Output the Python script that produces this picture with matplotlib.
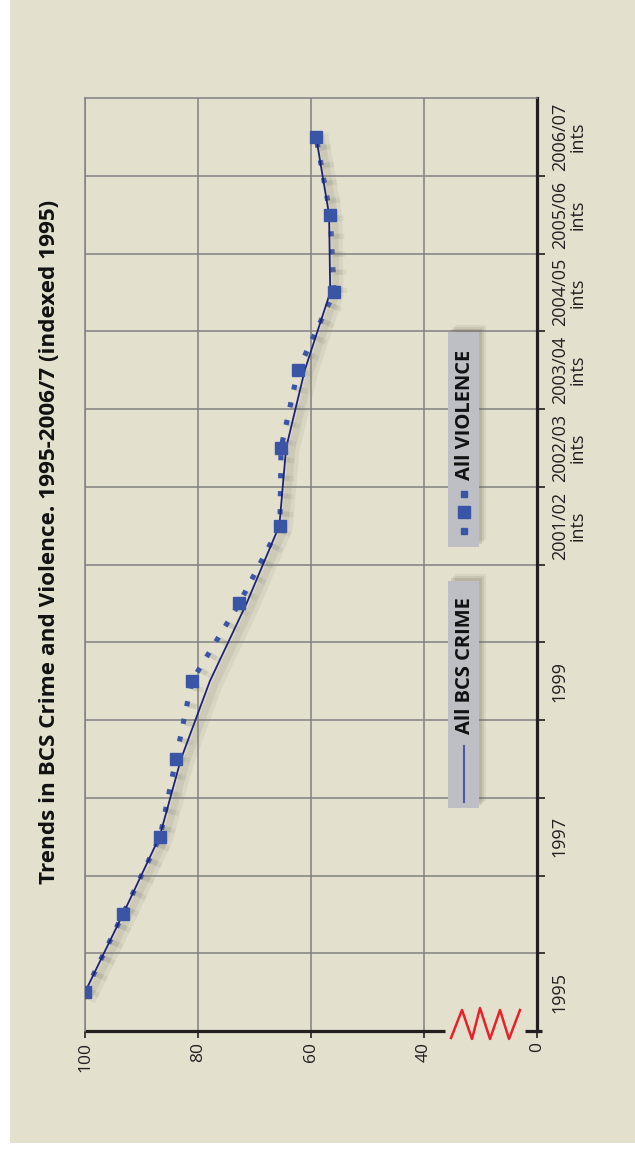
import matplotlib.pyplot as plt
import matplotlib.patheffects as pe
from matplotlib.patches import Rectangle
from matplotlib.lines import Line2D

plt.rcParams['font.family'] = ['Open Sans', 'DejaVu Sans']

# data (chart is drawn turned on its side, like the original)
years = ['1995', '1996', '1997', '1998', '1999', '2000', '2001/02',
         '2002/03', '2003/04', '2004/05', '2005/06', '2006/07']
year_labels = ['1995', '', '1997', '', '1999', '', '2001/02\nints',
               '2002/03\nints', '2003/04\nints', '2004/05\nints',
               '2005/06\nints', '2006/07\nints']
crime = [100, 93.3, 86.8, 83.0, 77.9, 71.4, 65.6, 64.4, 61.1, 56.6, 56.8, 59.1]
violence = [100, 93.3, 86.7, 83.9, 81.1, 72.7, 65.5, 65.3, 62.3, 55.9, 56.6, 59.1]
value_ticks = [100, 80, 60, 40, 20]
value_labels = ['100', '80', '60', '40', '0']

W, H = 635, 1150
bg = '#E3E1CE'
dark = '#231F20'
grid_col = '#808080'
blue = '#3A54A6'
navy = '#1E2277'

fig = plt.figure(figsize=(W / 100, H / 100), dpi=100)
fig.patch.set_facecolor('white')
fig.patches.append(Rectangle((10 / W, 1 - 1143 / H), 625 / W, 1143 / H,
                             transform=fig.transFigure, facecolor=bg,
                             edgecolor='none', zorder=-5))

ax = fig.add_axes([85 / W, 1 - 1031 / H, 452 / W, 933 / H])
ax.set_facecolor('none')
pos = list(range(len(years)))

# lines, with a soft shadow
shadow = [pe.SimpleLineShadow(offset=(5, -2), shadow_color='#8a8777', alpha=0.12, linewidth=9),
          pe.SimpleLineShadow(offset=(4, -1.5), shadow_color='#8a8777', alpha=0.15, linewidth=5),
          pe.Normal()]
ax.plot(crime, pos, color=navy, lw=1.3, zorder=4, path_effects=shadow)
ax.plot(violence, pos, color=blue, lw=3.7, linestyle=(0, (1, 2.5)),
        dash_capstyle='butt', zorder=3, path_effects=shadow)
ax.plot(violence, pos, 's', color=blue, ms=8.6, zorder=5)

# scales
ax.set_xlim(100, 20)
ax.set_ylim(-0.5, len(years) - 0.5)
ax.set_xticks(value_ticks)
ax.set_xticklabels(value_labels, rotation=90, fontsize=12.5, color=dark)
ax.set_yticks(pos)
ax.set_yticks([p + 0.5 for p in pos[:-1]], minor=True)
ax.yaxis.tick_right()
ax.set_yticklabels(year_labels, rotation=90, fontsize=13, color=dark,
                   va='center', multialignment='center', linespacing=0.95)
ax.tick_params(axis='y', which='major', length=0, pad=10)
ax.tick_params(axis='y', which='minor', length=6, width=1.2, color=dark, direction='out')
ax.tick_params(axis='x', length=5, width=1.2, color=dark, pad=3)

# grid
ax.xaxis.grid(True, color=grid_col, lw=1.1)
ax.yaxis.grid(True, which='minor', color=grid_col, lw=1.1)
ax.set_axisbelow(True)

for side in ['left', 'top']:
    ax.spines[side].set_color(grid_col)
    ax.spines[side].set_linewidth(1.1)
ax.spines['right'].set_color(dark)
ax.spines['right'].set_linewidth(2.3)
ax.spines['bottom'].set_visible(False)

# broken value axis
ax.plot([0, (445 - 85) / 452], [0, 0], transform=ax.transAxes, color=dark,
        lw=2.3, solid_capstyle='butt', clip_on=False)
ax.plot([(525 - 85) / 452, (542 - 85) / 452], [0, 0], transform=ax.transAxes,
        color=dark, lw=2.3, solid_capstyle='butt', clip_on=False)
zx = [451, 462, 472, 480, 490, 500, 509, 520]
zy = [1038, 1010, 1039, 1008, 1039, 1010, 1039, 1010]
fig.add_artist(Line2D([x / W for x in zx], [1 - y / H for y in zy],
                      color='#E8202A', lw=1.8))

# title
fig.text(50 / W, 1 - 542 / H,
         'Trends in BCS Crime and Violence. 1995-2006/7 (indexed 1995)',
         rotation=90, fontsize=16.2, fontweight='bold', color='#111111',
         ha='center', va='center')

# legend boxes
def legend_box(y_top, y_bot):
    for k, a in zip([7, 5, 3], [0.1, 0.14, 0.18]):
        fig.patches.append(Rectangle(((448 + k) / W, 1 - (y_bot - k) / H), 31 / W,
                                     (y_bot - y_top) / H, transform=fig.transFigure,
                                     facecolor='#6e6b5e', alpha=a, edgecolor='none'))
    fig.patches.append(Rectangle((448 / W, 1 - y_bot / H), 31 / W, (y_bot - y_top) / H,
                                 transform=fig.transFigure, facecolor='#BEBFC4',
                                 edgecolor='none'))

legend_box(332, 547)
fig.text(465 / W, 1 - 415 / H, 'All VIOLENCE', rotation=90, fontsize=14.5,
         fontweight='bold', color='#111111', ha='center', va='center')
fig.add_artist(Line2D([464 / W] * 2, [1 - 531 / H, 1 - 494 / H], marker='s', ms=4,
                      linestyle='none', color=blue))
fig.add_artist(Line2D([464 / W], [1 - 512 / H], marker='s', ms=8.6, color=blue))

legend_box(581, 808)
fig.text(465 / W, 1 - 666 / H, 'All BCS CRIME', rotation=90, fontsize=14.5,
         fontweight='bold', color='#111111', ha='center', va='center')
fig.add_artist(Line2D([464 / W] * 2, [1 - 802 / H, 1 - 746 / H], color='#5055A8', lw=1.5))

fig.savefig('out.png', dpi=100)
